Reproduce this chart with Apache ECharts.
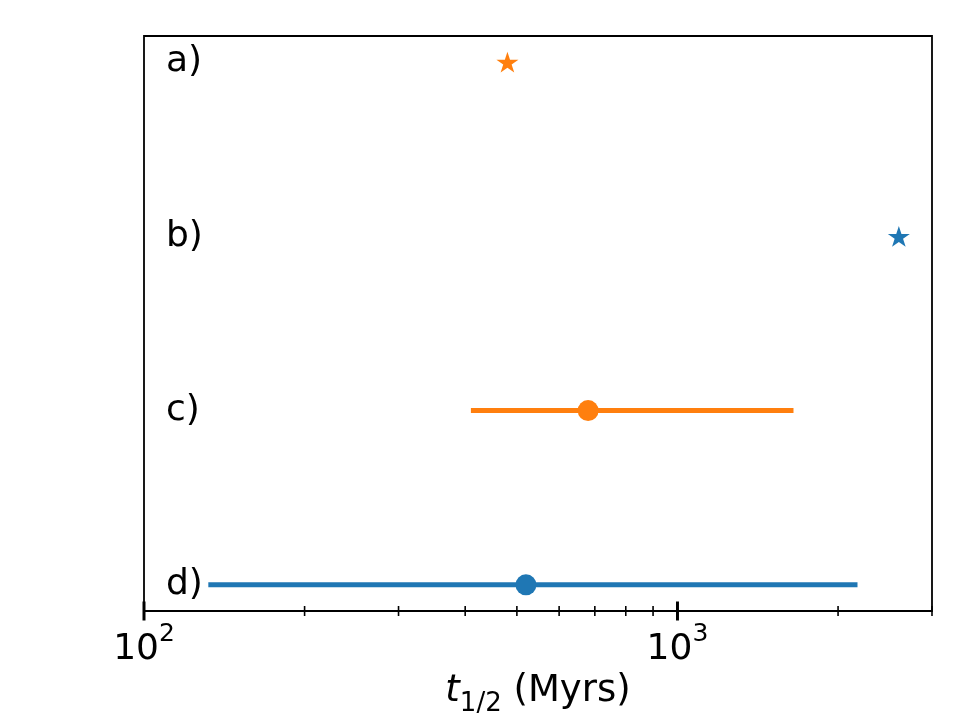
<!DOCTYPE html>
<html>
<head>
<meta charset="utf-8">
<title>t1/2 ranges</title>
<script src="https://cdn.jsdelivr.net/npm/echarts@6/dist/echarts.min.js"></script>
<style>
  html, body { margin: 0; padding: 0; background: #fff; }
  #main { width: 960px; height: 720px; }
</style>
</head>
<body>
<div id="main"></div>
<script>
// rows from top to bottom, placed at y = 3, 2, 1, 0
var rowNames = ['a)', 'b)', 'c)', 'd)'];
var rowY = [3, 2, 1, 0];

// single estimates (stars), Myrs
var starA = [480];   // row a
var starB = [2600];  // row b

// ranges: [low, median, high], Myrs
var rangeC = [410, 680, 1650];
var rangeD = [132, 520, 2175];

// x ticks
var majorTicks = [100, 1000];
var minorTicks = [200, 300, 400, 500, 600, 700, 800, 900, 2000, 3000];

var ORANGE = '#ff7f0e';
var BLUE = '#1f77b4';
var FONT = 'DejaVu Sans';
var Y_MIN = -0.15, Y_MAX = 3.15;

// matplotlib-like 5 point star
var STAR = 'path://M100,0L122.45,69.1L195.11,69.1L136.33,111.8L158.78,180.9L100,138.2L41.22,180.9L63.67,111.8L4.89,69.1L77.55,69.1Z';

var myChart = echarts.init(document.getElementById('main'));

function tickSeries(values, half, width) {
    return {
        type: 'custom',
        silent: true,
        clip: false,
        z: 10,
        data: values.map(function (v) { return [v, Y_MIN]; }),
        renderItem: function (params, api) {
            var p = api.coord([api.value(0), Y_MIN]);
            return {
                type: 'line',
                shape: { x1: p[0], y1: p[1] - half, x2: p[0], y2: p[1] + half },
                style: { stroke: '#000', lineWidth: width }
            };
        }
    };
}

function rangeSeries(r, y, color) {
    return [{
        type: 'line',
        data: [[r[0], y], [r[2], y]],
        symbol: 'none',
        lineStyle: { color: color, width: 5, cap: 'butt' },
        silent: true
    }, {
        type: 'scatter',
        data: [[r[1], y]],
        symbol: 'circle',
        symbolSize: 21,
        itemStyle: { color: color, opacity: 1 },
        z: 3
    }];
}

var option = {
    animation: false,
    grid: {
        left: 144, right: 28, top: 36, bottom: 109,
        show: true,
        borderColor: '#000',
        borderWidth: 1.8,
        outerBoundsMode: 'none'
    },
    xAxis: {
        type: 'log',
        logBase: 10,
        min: 100,
        max: 3000,
        axisLine: { show: false },
        axisTick: { show: false },
        minorTick: { show: false },
        splitLine: { show: false },
        axisLabel: {
            margin: 11,
            showMaxLabel: false,
            formatter: function (v) {
                var e = Math.log10(v);
                if (Math.abs(e - Math.round(e)) > 1e-6) return '';
                return '{m|10}{sup|' + Math.round(e) + '}';
            },
            rich: {
                m: { fontSize: 36, fontFamily: FONT, color: '#000', lineHeight: 46, verticalAlign: 'bottom' },
                sup: { fontSize: 25, fontFamily: FONT, color: '#000', lineHeight: 26, verticalAlign: 'top' }
            }
        },
        name: '{it|t}{sub|1/2}{n| (Myrs)}',
        nameLocation: 'middle',
        nameGap: 61,
        nameTextStyle: {
            rich: {
                it: { fontSize: 37, fontStyle: 'italic', fontFamily: FONT, color: '#000', lineHeight: 44, verticalAlign: 'top' },
                sub: { fontSize: 26, fontFamily: FONT, color: '#000', lineHeight: 26, verticalAlign: 'bottom' },
                n: { fontSize: 37, fontFamily: FONT, color: '#000', lineHeight: 44, verticalAlign: 'top' }
            }
        }
    },
    yAxis: {
        type: 'value',
        min: Y_MIN,
        max: Y_MAX,
        axisLine: { show: false },
        axisTick: { show: false },
        axisLabel: { show: false },
        splitLine: { show: false }
    },
    series: [].concat(
        rangeSeries(rangeC, rowY[2], ORANGE),
        rangeSeries(rangeD, rowY[3], BLUE),
        [{
            type: 'scatter',
            data: starA.map(function (v) { return [v, rowY[0]]; }),
            symbol: STAR,
            symbolKeepAspect: true,
            symbolSize: 22,
            itemStyle: { color: ORANGE, opacity: 1 }
        }, {
            type: 'scatter',
            data: starB.map(function (v) { return [v, rowY[1]]; }),
            symbol: STAR,
            symbolKeepAspect: true,
            symbolSize: 22,
            itemStyle: { color: BLUE, opacity: 1 }
        }, {
            // row labels
            type: 'scatter',
            clip: false,
            silent: true,
            symbolSize: 0,
            itemStyle: { opacity: 1, color: '#000' },
            data: rowNames.map(function (n, i) { return { name: n, value: [100, rowY[i]] }; }),
            label: {
                show: true,
                position: 'right',
                distance: 22,
                formatter: '{b}',
                fontSize: 36,
                fontFamily: FONT,
                color: '#000',
                opacity: 1
            }
        },
        tickSeries(majorTicks, 9.5, 3),
        tickSeries(minorTicks, 5, 1.6)]
    )
};

myChart.setOption(option);
window.addEventListener('resize', function () {
    myChart.resize();
});
</script>
</body>
</html>
